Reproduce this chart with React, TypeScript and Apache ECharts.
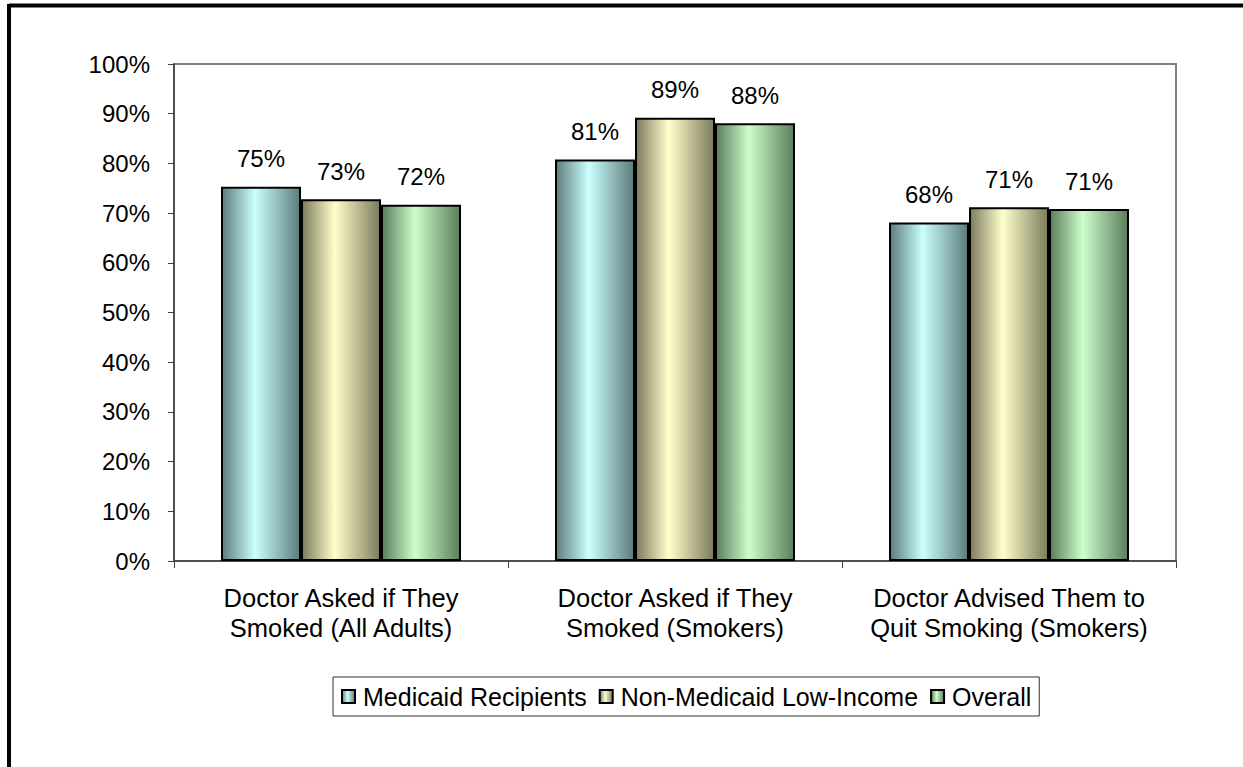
import React, { useEffect, useRef } from "react";
import * as echarts from "echarts";

const categories = [
  "Doctor Asked if They\nSmoked (All Adults)",
  "Doctor Asked if They\nSmoked (Smokers)",
  "Doctor Advised Them to\nQuit Smoking (Smokers)",
];
const seriesNames = ["Medicaid Recipients", "Non-Medicaid Low-Income", "Overall"];
const medicaid = [75.3, 80.8, 68.1];
const nonMedicaid = [72.8, 89.2, 71.2];
const overall = [71.7, 88.1, 70.8];
const yTicks = [0, 10, 20, 30, 40, 50, 60, 70, 80, 90, 100];

const palettes = [
  { edge: "#5c7c7c", mid: "#ccffff" },
  { edge: "#7c7b5c", mid: "#ffffcc" },
  { edge: "#5c7c5c", mid: "#ccffcc" },
];

function grad(p: { edge: string; mid: string }) {
  return new echarts.graphic.LinearGradient(0, 0, 1, 0, [
    { offset: 0, color: p.edge },
    { offset: 0.42, color: p.mid },
    { offset: 1, color: p.edge },
  ]);
}

export default function App() {
  const ref = useRef<HTMLDivElement>(null);
  useEffect(() => {
    const chart = echarts.init(ref.current!, null, { renderer: "svg" });
    const values = [medicaid, nonMedicaid, overall];
    const font = "'Liberation Sans', Arial, sans-serif";
    chart.setOption({
      animation: false,
      backgroundColor: "#ffffff",
      textStyle: { fontFamily: font },
      grid: {
        left: 174,
        right: 67,
        top: 64,
        bottom: 206,
        show: true,
        borderColor: "#808080",
        borderWidth: 2,
      },
      legend: {
        data: seriesNames,
        top: 677,
        left: 333,
        itemWidth: 13,
        itemHeight: 13,
        itemGap: 12,
        icon: "rect",
        padding: [7, 8, 7, 8],
        borderColor: "#303030",
        borderWidth: 1,
        textStyle: { fontSize: 25, color: "#000", fontFamily: font, padding: [2, 0, 0, 3] },
      },
      xAxis: {
        type: "category",
        data: categories,
        axisLine: { lineStyle: { color: "#404040", width: 1.5 } },
        axisTick: { show: true, length: 7, lineStyle: { color: "#404040" } },
        axisLabel: {
          interval: 0,
          fontSize: 25.5,
          color: "#000",
          lineHeight: 30,
          margin: 22,
          fontFamily: font,
        },
      },
      yAxis: {
        type: "value",
        min: 0,
        max: 100,
        interval: 10,
        splitLine: { show: false },
        axisLine: { show: true, lineStyle: { color: "#404040", width: 1.5 } },
        axisTick: { show: true, length: 6, lineStyle: { color: "#404040" } },
        axisLabel: {
          fontSize: 24,
          color: "#000",
          margin: 24,
          fontFamily: font,
          formatter: (v: number) => (yTicks.includes(v) ? v + "%" : ""),
        },
      },
      series: seriesNames.map((name, i) => ({
        name,
        type: "bar",
        data: values[i],
        barWidth: 80,
        barGap: "0%",
        itemStyle: {
          color: grad(palettes[i]),
          borderColor: "#000",
          borderWidth: 2,
        },
        label: {
          show: true,
          position: "top",
          distance: 16,
          fontSize: 24,
          color: "#000",
          fontFamily: font,
          formatter: (p: any) => Math.round(p.value) + "%",
        },
      })),
      graphic: [
        {
          type: "line",
          shape: { x1: 9, y1: 5.5, x2: 1243, y2: 5.5 },
          style: { stroke: "#000", lineWidth: 4 },
        },
        {
          type: "line",
          shape: { x1: 9, y1: 4, x2: 9, y2: 767 },
          style: { stroke: "#000", lineWidth: 4 },
        },
      ],
    });
    return () => chart.dispose();
  }, []);
  return (
    <div
      ref={ref}
      style={{ position: "fixed", left: 0, top: 0, width: 1243, height: 767 }}
    />
  );
}
